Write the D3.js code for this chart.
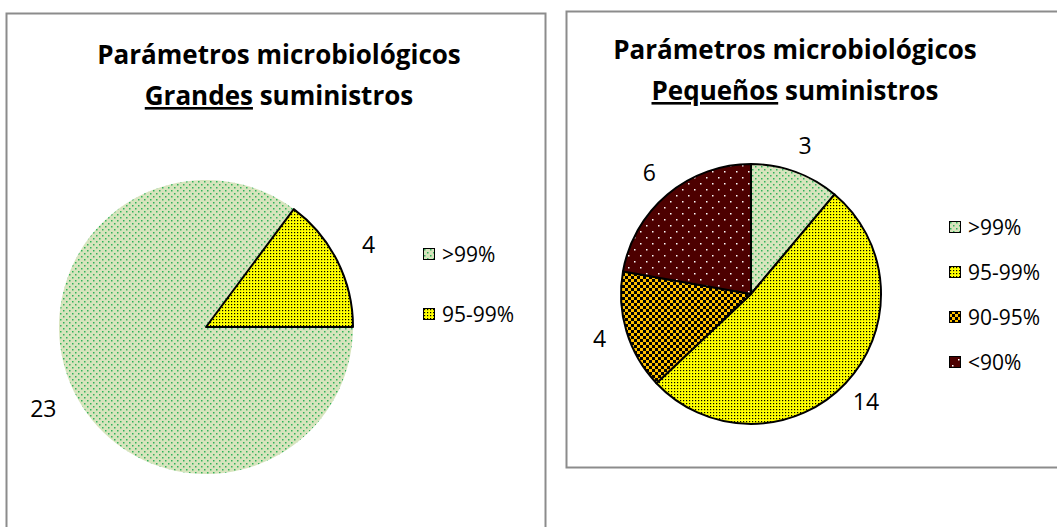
<!DOCTYPE html>
<html>
<head>
<meta charset="utf-8">
<script src="https://cdn.jsdelivr.net/npm/d3@7"></script>
<style>
  body { margin: 0; background: #fff; }
  svg { display: block; font-family: "Open Sans", "Noto Sans", sans-serif; }
</style>
</head>
<body>
<svg id="chart" width="1057" height="527"></svg>
<script>
// data
const categorias = ['>99%', '95-99%', '90-95%', '<90%'];
const valoresGrandes = [23, 4];
const valoresPequenos = [3, 14, 4, 6];
const titulo = 'Parámetros microbiológicos';

const svg = d3.select('#chart');
const defs = svg.append('defs');

// fill patterns, one per category
const addPattern = (id, w, h, bg, dots, dotColor, size) => {
  const p = defs.append('pattern')
    .attr('id', id)
    .attr('patternUnits', 'userSpaceOnUse')
    .attr('width', w)
    .attr('height', h);
  p.append('rect').attr('width', w).attr('height', h).attr('fill', bg);
  dots.forEach(([x, y]) => {
    p.append('rect').attr('x', x).attr('y', y)
      .attr('width', size).attr('height', size).attr('fill', dotColor);
  });
};
addPattern('pat0', 6, 6, '#d7e4bd', [[1, 1], [4, 4]], '#2fb25a', 1.5);
addPattern('pat1', 3, 3, '#ffff00', [[1, 1]], '#000000', 1.2);
addPattern('pat2', 6, 6, '#ffc000', [[0, 0], [3, 3]], '#000000', 3);
addPattern('pat3', 12, 12, '#4d0000', [[3, 3], [9, 9]], '#ffffff', 1.5);

const color = d3.scaleOrdinal().domain(categorias)
  .range(categorias.map((c, i) => `url(#pat${i})`));

// chart frames
svg.append('rect')
  .attr('x', 6.5).attr('y', 13.5).attr('width', 539).attr('height', 540)
  .attr('fill', 'none').attr('stroke', '#8c8c8c').attr('stroke-width', 2);
svg.append('rect')
  .attr('x', 566.5).attr('y', 11.5).attr('width', 520).attr('height', 456)
  .attr('fill', 'none').attr('stroke', '#8c8c8c').attr('stroke-width', 2);

const drawPie = (opts) => {
  const { values, cx, cy, r, start, outlineFirst, titleY, bold, rest, titleX, legendX, legendY, legendStep, labelR } = opts;
  const cats = categorias.slice(0, values.length);
  const data = cats.map((c, i) => ({ cat: c, value: values[i] }));

  const pie = d3.pie().sort(null).value((d) => d.value)
    .startAngle(start).endAngle(start + 2 * Math.PI);
  const arc = d3.arc().innerRadius(0).outerRadius(r);
  const labelArc = d3.arc().innerRadius(labelR).outerRadius(labelR);

  const g = svg.append('g').attr('transform', `translate(${cx}, ${cy})`);
  g.selectAll('path')
    .data(pie(data))
    .enter()
    .append('path')
    .attr('d', arc)
    .attr('fill', (d) => color(d.data.cat))
    .attr('stroke', (d, i) => (i === 0 && !outlineFirst ? 'none' : '#000'))
    .attr('stroke-width', 2)
    .attr('stroke-linejoin', 'round');

  g.selectAll('.lbl')
    .data(pie(data))
    .enter()
    .append('text')
    .attr('class', 'lbl')
    .attr('transform', (d) => `translate(${labelArc.centroid(d)})`)
    .attr('text-anchor', 'middle')
    .attr('dy', '0.35em')
    .attr('font-size', 23)
    .text((d) => d.data.value);

  // title
  const t = svg.append('text')
    .attr('x', titleX).attr('text-anchor', 'middle')
    .attr('font-weight', 'bold').attr('font-size', 26);
  t.append('tspan').attr('x', titleX).attr('y', titleY).text(titulo);
  const l2 = t.append('tspan').attr('x', titleX).attr('y', titleY + 41);
  l2.append('tspan').style('text-decoration', 'underline').text(bold);
  l2.append('tspan').text(' ' + rest);

  // legend
  const lg = svg.append('g').selectAll('g')
    .data(cats)
    .enter()
    .append('g')
    .attr('transform', (d, i) => `translate(${legendX}, ${legendY + i * legendStep})`);
  lg.append('rect')
    .attr('x', 0.5).attr('y', -5.5).attr('width', 11).attr('height', 11)
    .attr('fill', (d) => color(d)).attr('stroke', '#000').attr('stroke-width', 1);
  lg.append('text')
    .attr('x', 19).attr('dy', '0.36em').attr('font-size', 21)
    .text((d) => d);
};

drawPie({
  values: valoresGrandes, cx: 206, cy: 327, r: 147, start: Math.PI / 2,
  outlineFirst: false, labelR: 182,
  titleX: 279, titleY: 64, bold: 'Grandes', rest: 'suministros',
  legendX: 423, legendY: 254, legendStep: 60
});
drawPie({
  values: valoresPequenos, cx: 751, cy: 294, r: 130, start: 0,
  outlineFirst: true, labelR: 158,
  titleX: 795, titleY: 59, bold: 'Pequeños', rest: 'suministros',
  legendX: 949, legendY: 227, legendStep: 45
});
</script>
</body>
</html>
